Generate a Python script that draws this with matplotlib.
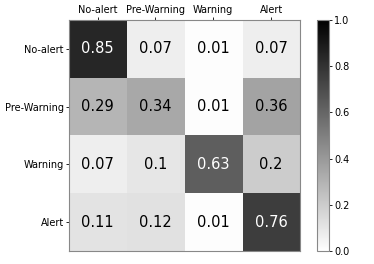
import numpy as np
import matplotlib
matplotlib.use("Agg")
import matplotlib.pyplot as plt

labels = ["No-alert", "Pre-Warning", "Warning", "Alert"]
cm = np.array([
    [0.85, 0.07, 0.01, 0.07],
    [0.29, 0.34, 0.01, 0.36],
    [0.07, 0.10, 0.63, 0.20],
    [0.11, 0.12, 0.01, 0.76],
])

fig = plt.figure(figsize=(3.74, 2.64), dpi=100)
ax = fig.add_axes([0.184, 0.049, 0.618, 0.875])
cax = fig.add_axes([0.848, 0.049, 0.032, 0.875])

im = ax.imshow(cm, cmap="gray_r", vmin=0, vmax=1, aspect="auto")
ax.set_xticks(range(len(labels)))
ax.set_yticks(range(len(labels)))
ax.set_xticklabels(labels, fontsize=7)
ax.set_yticklabels(labels, fontsize=7)
ax.xaxis.tick_top()
ax.tick_params(length=2, width=0.6, pad=1.5)
for s in ax.spines.values():
    s.set_color("#888888")

for i in range(cm.shape[0]):
    for j in range(cm.shape[1]):
        v = cm[i, j]
        txt = f"{v:g}"
        ax.text(j, i, txt, ha="center", va="center", fontsize=10.5,
                color="white" if v > 0.5 else "black")

cb = fig.colorbar(im, cax=cax)
cb.set_ticks([0.0, 0.2, 0.4, 0.6, 0.8, 1.0])
cb.ax.tick_params(labelsize=7, length=2, width=0.6, pad=1.5)
cb.outline.set_edgecolor("#888888")

fig.savefig("out.png", dpi=100)
